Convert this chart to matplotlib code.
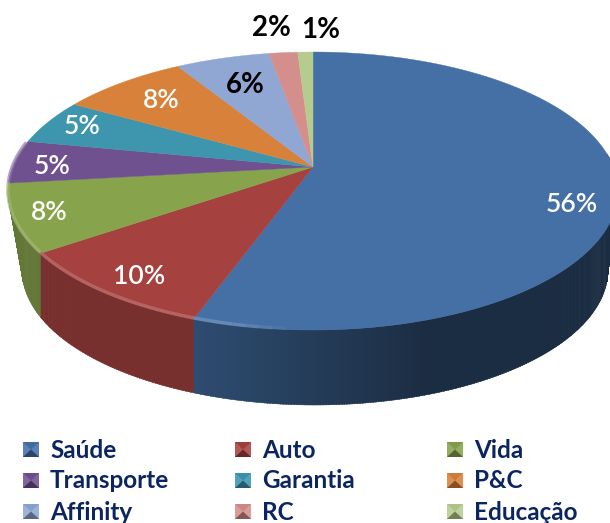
import matplotlib
matplotlib.use('Agg')
import matplotlib.pyplot as plt
import numpy as np
from matplotlib.colors import to_rgb
from matplotlib.patches import Polygon, Rectangle

categories = ['Saúde', 'Auto', 'Vida', 'Transporte', 'Garantia', 'P&C', 'Affinity', 'RC', 'Educação']
# printed labels
labels = ['56%', '10%', '8%', '5%', '5%', '8%', '6%', '2%', '1%']
# slice sizes as they look on the tilted pie (perspective stretches them a bit)
shares = [56.4, 11.2, 8.3, 4.9, 4.9, 7.0, 5.0, 1.5, 0.8]
colors = ['#4470a6', '#a54240', '#87a34b', '#6f5190', '#3d95ae', '#d8813a', '#8fa7d2', '#d48f8d', '#b6cc8e']
label_xy = [(572, 205), (139, 276), (49, 213), (52, 166), (82, 126), (161, 100), (245, 85), (271, 28), (321, 30)]
label_colors = ['white'] * 6 + ['black'] * 3
legend_xy = [(50, 450), (262, 450), (474, 450), (50, 481), (262, 481), (474, 481), (50, 512), (262, 512), (474, 512)]

# top face ellipse, point the slices meet at, bottom ellipse
CX, CY, RX, RY = 313, 191, 305, 139
APEX = (313, 167)
CX2, CY2, RX2, RY2 = 315, 270, 293, 135


def shade(c, f):
    return tuple(np.clip(np.array(to_rgb(c)) * f, 0, 1))


def lighten(c, f):
    rgb = np.array(to_rgb(c))
    return tuple(rgb + (1 - rgb) * f)


def rim(a):
    # a in degrees, clockwise from the top
    t = np.radians(a)
    return CX + RX * np.sin(t), CY - RY * np.cos(t)


def wall_bottom(x):
    xb = np.clip(x, CX2 - RX2 + 1, CX2 + RX2 - 1)
    return xb, CY2 + RY2 * np.sqrt(1 - ((xb - CX2) / RX2) ** 2)


def run():
    plt.rcParams['font.family'] = ['Lato', 'DejaVu Sans']
    fig = plt.figure(figsize=(6.1, 5.23), dpi=100)
    ax = fig.add_axes([0, 0, 1, 1])
    ax.axis('off')
    ax.set_xlim(0, 610)
    ax.set_ylim(523, 0)

    edges = np.cumsum([0] + shares) / sum(shares) * 360

    # side wall, thin strips so the blue can go darker to the right
    # only the first three slices show a wall
    for i, c in enumerate(colors[:3]):
        for a0 in np.arange(edges[i], edges[i + 1], 0.5):
            a1 = min(a0 + 0.7, edges[i + 1])
            if a1 < 75:
                continue
            x0, y0 = rim(a0)
            x1, y1 = rim(a1)
            xb0, yb0 = wall_bottom(x0)
            xb1, yb1 = wall_bottom(x1)
            if i == 0:
                f = 0.68 - 0.28 * np.clip((x0 - 195) / 235, 0, 1)
            else:
                f = 0.73
            ax.add_patch(Polygon([(x0, y0), (x1, y1), (xb1, yb1), (xb0, yb0)],
                                 facecolor=shade(c, f), edgecolor=shade(c, f), lw=0.3))

    # top face
    for i, c in enumerate(colors):
        a = np.linspace(edges[i], edges[i + 1], 120)
        x, y = rim(a)
        ax.fill(np.r_[APEX[0], x], np.r_[APEX[1], y], color=c, lw=0.3)

    # lighter rim along the front edge, only on the left of the front
    for i, c in enumerate(colors):
        a = np.linspace(edges[i], edges[i + 1], 80)
        a = a[(a > 180) & (a < 290)]
        if len(a) < 2:
            continue
        x, y = rim(a)
        for j in range(len(a) - 1):
            fade = np.clip((300 - x[j]) / 60, 0, 1)
            ax.plot(x[j:j + 2], y[j:j + 2] - 1, color=lighten(c, 0.22), lw=2.5,
                    alpha=0.85 * fade, solid_capstyle='butt')

    for s, (x, y), lc in zip(labels, label_xy, label_colors):
        if lc == 'black':
            ax.text(x, y, s, color=lc, fontsize=20, ha='center', va='center', fontweight='bold')
        else:
            ax.text(x, y, s, color=lc, fontsize=19, ha='center', va='center', fontweight='semibold')

    for i in range(len(categories)):
        x, y = legend_xy[i]
        c = colors[i]
        mx, my, w, h = x - 27, y - 8, 16, 15
        ax.add_patch(Rectangle((mx, my), w, h, color=lighten(c, 0.12), lw=0))
        ax.add_patch(Polygon([(mx, my), (mx + w, my), (mx + w / 2, my + h / 2)],
                             color=shade(c, 0.95), lw=0))
        ax.add_patch(Polygon([(mx, my + h), (mx + w, my + h), (mx + w / 2, my + h / 2)],
                             color=shade(c, 0.62), lw=0))
        ax.text(x, y, categories[i], color='#0b2560', fontsize=17.5, fontweight='bold', va='center', ha='left')

    fig.savefig('out.png', dpi=100)


if __name__ == "__main__":
    run()
